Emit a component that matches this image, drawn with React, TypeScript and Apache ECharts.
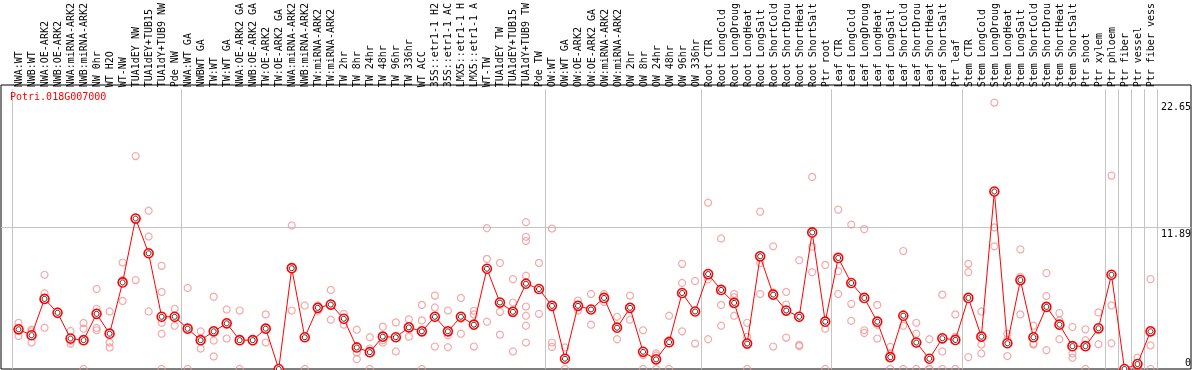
import React, { useEffect, useRef } from "react";
import * as echarts from "echarts";

const geneId = "Potri.018G007000";

const categories = [
  "NWA:WT", "NWB:WT", "NWA:OE-ARK2", "NWB:OE-ARK2", "NWA:miRNA-ARK2", "NWB:miRNA-ARK2", "NW 0hr", "WT H2O", "WT-NW", "TUA1dEY NW", "TUA1dEY+TUB15", "TUA1dY+TUB9 NW", "Pde NW",
  "NWA:WT GA", "NWBWT GA", "TW:WT", "TW:WT GA", "NWA:OE-ARK2 GA", "NWB:OE-ARK2 GA", "TW:OE-ARK2", "TW:OE-ARK2 GA", "NWA:miRNA-ARK2", "NWB:miRNA-ARK2", "TW:miRNA-ARK2", "TW:miRNA-ARK2", "TW 2hr", "TW 8hr", "TW 24hr", "TW 48hr", "TW 96hr", "TW 336hr", "WT ACC", "35S::etr1-1 H2", "35S::etr1-1 AC", "LMX5::etr1-1 H", "LMX5::etr1-1 A", "WT-TW", "TUA1dEY TW", "TUA1dEY+TUB15", "TUA1dY+TUB9 TW", "Pde TW",
  "OW:WT", "OW:WT GA", "OW:OE-ARK2", "OW:OE-ARK2 GA", "OW:miRNA-ARK2", "OW:miRNA-ARK2", "OW 2hr", "OW 8hr", "OW 24hr", "OW 48hr", "OW 96hr", "OW 336hr",
  "Root CTR", "Root LongCold", "Root LongDroug", "Root LongHeat", "Root LongSalt", "Root ShortCold", "Root ShortDrou", "Root ShortHeat", "Root ShortSalt", "Ptr root",
  "Leaf CTR", "Leaf LongCold", "Leaf LongDroug", "Leaf LongHeat", "Leaf LongSalt", "Leaf ShortCold", "Leaf ShortDrou", "Leaf ShortHeat", "Leaf ShortSalt", "Ptr leaf",
  "Stem CTR", "Stem LongCold", "Stem LongDroug", "Stem LongHeat", "Stem LongSalt", "Stem ShortCold", "Stem ShortDrou", "Stem ShortHeat", "Stem ShortSalt", "Ptr shoot", "Ptr xylem",
  "Ptr phloem", "Ptr fiber", "Ptr vessel", "Ptr fiber vess",
];

const means = [
  3.37, 2.87, 5.96, 4.78, 2.59, 2.45, 4.69, 3.0, 7.36, 12.79, 9.84, 4.44, 4.44,
  3.43, 2.45, 3.2, 3.88, 2.45, 2.45, 3.43, 0, 8.57, 2.7, 5.2, 5.48, 4.27, 1.83, 1.43, 2.75, 2.7, 3.54, 3.2, 4.44, 3.2, 4.44, 3.77, 8.52, 5.65, 4.86, 7.25, 6.8,
  5.37, 0.87, 5.37, 5.06, 6.04, 3.51, 5.2, 1.46, 0.82, 2.28, 6.46, 4.89,
  8.07, 6.72, 5.62, 2.16, 9.58, 6.32, 4.97, 4.44, 11.61, 4.02,
  9.44, 7.31, 6.04, 4.02, 1.01, 4.53, 2.25, 0.87, 2.61, 2.47,
  6.04, 2.75, 15.09, 2.19, 7.56, 2.7, 5.28, 3.77, 1.94, 1.94, 3.46,
  8.01, 0, 0.42, 3.2,
];

const replicates: number[][] = [
  [3.93, 2.81], [3.34, 3.2, 2.25], [8.01, 6.44, 3.51], [4.9, 4.66], [3.23, 2.4, 2.16], [3.91, 3.43, 0], [6.8, 5.12, 3.49, 3.29], [4.89, 2.25, 1.83], [9.05, 7.56, 5.79], [18.1, 7.56], [13.46, 11.27, 4.89], [8.77, 6.55, 3.93, 3.0, 0], [5.12, 3.68],
  [6.89, 0], [3.2, 1.74], [6.15, 2.42, 1.07], [5.06, 2.59], [4.97, 0], [2.55, 2.35], [4.64, 2.25], [0, 0], [12.2, 4.97], [5.4, 0], [5.4, 4.97], [6.72, 4.19], [4.69, 3.77], [3.34, 1.41, 0.84], [2.7, 1.74, 0], [3.6, 2.45, 2.25], [3.96, 1.49], [4.22, 2.75], [5.45, 4.13, 0], [6.24, 5.23, 1.91], [4.97, 2.87, 1.85], [6.04, 4.27, 3.0], [4.95, 4.64, 1.91], [11.97, 9.36, 4.02], [9.02, 4.86, 2.92], [7.64, 5.65, 1.49], [12.48, 11.24, 10.88, 7.93, 5.31, 4.53, 3.68, 2.25], [9.02, 4.69],
  [11.94, 2.25, 1.88], [1.83, 0], [5.82, 4.97], [6.38, 3.77], [6.38, 5.7], [4.44, 2.53], [6.24, 4.19], [3.29, 1.18, 0], [1.32, 1.15, 0], [4.53, 2.45, 0], [8.94, 7.31, 3.2], [7.48, 2.16],
  [14.14, 7.62, 2.53], [11.1, 5.45, 3.68], [6.38, 6.1, 4.53], [3.93, 2.73, 0], [13.38, 9.02, 6.38], [10.43, 6.52, 1.91], [6.55, 5.48, 2.67], [9.25, 2.05, 1.94], [16.33, 10.4, 8.23], [8.85, 3.43, 0],
  [13.55, 8.32, 6.38], [12.28, 5.54, 4.1], [11.89, 3.29, 3.06], [5.45, 3.77, 2.59], [1.88, 1.32, 0], [10.03, 3.68, 0], [3.93, 3.0, 0], [2.53, 0, 0], [6.32, 1.49, 0], [4.64, 2.73, 0],
  [8.94, 8.23, 1.01], [4.89, 2.08, 1.32], [22.65, 12.03, 10.43], [3.0, 2.5, 1.1], [10.17, 7.84, 4.64], [3.68, 2.16, 2.08], [8.15, 6.21, 1.6], [4.75, 4.13, 2.53], [3.57, 1.32, 0.96], [3.37, 2.45, 0], [4.81, 2.11],
  [16.44, 5.4, 2.19], [0], [0.96, 0.3, 0], [7.64, 2.0, 0],
];

const groupStarts = [0, 13, 41, 53, 63, 73, 84, 85, 86, 87];
const yTicks = [0, 11.89, 22.65];
const yStep = 11.89;
const yMax = 23.78;

export default function App() {
  const ref = useRef<HTMLDivElement>(null);
  useEffect(() => {
    if (!ref.current) return;
    const chart = echarts.init(ref.current, undefined, { renderer: "svg" });
    const mono = "'DejaVu Sans Mono', monospace";
    const repPoints: [number, number][] = [];
    replicates.forEach((arr, i) => arr.forEach((v) => repPoints.push([i, v])));
    const meanPoints = means.map((v, i) => [i, v]);
    const isBoundary = (index: number) => groupStarts.indexOf(index) >= 0;
    const gray = "#c4c4c4";
    chart.setOption({
      animation: false,
      title: {
        text: geneId,
        left: 10,
        top: 91,
        padding: 0,
        textStyle: { color: "#ff0000", fontSize: 10, fontFamily: mono, fontWeight: "normal" },
      },
      grid: [
        { left: 1, right: 1, top: 85, bottom: 1, show: true, borderColor: "#000", borderWidth: 1, backgroundColor: "rgba(0,0,0,0)" },
        { left: 12, right: 37, top: 85, bottom: 1 },
      ],
      xAxis: [
        { gridIndex: 0, type: "value", min: 0, max: 1, show: false },
        {
          gridIndex: 1,
          type: "category",
          data: categories,
          position: "top",
          boundaryGap: true,
          axisLine: { show: false },
          axisTick: { show: true, interval: isBoundary, length: 85, lineStyle: { color: gray, width: 1 } },
          splitLine: { show: true, interval: isBoundary, lineStyle: { color: gray, width: 1 } },
          axisLabel: { interval: 0, rotate: 90, margin: 2, fontSize: 10, fontFamily: mono, color: "#000" },
        },
      ],
      yAxis: [
        {
          gridIndex: 0,
          type: "value",
          min: 0,
          max: yMax,
          interval: yStep,
          position: "right",
          axisLine: { show: false },
          axisTick: { show: false },
          splitLine: { show: true, showMinLine: false, showMaxLine: false, lineStyle: { color: gray, width: 1 } },
          axisLabel: {
            inside: true,
            margin: 0,
            customValues: yTicks,
            fontSize: 10,
            fontFamily: mono,
            color: "#000",
            formatter: (v: number) => (v === 0 ? `{b|${v}}` : v === yTicks[2] ? `{t2|${v}}` : `{t|${v}}`),
            rich: {
              b: { fontSize: 10, fontFamily: mono, color: "#000", padding: [0, 0, 14, 0] },
              t: { fontSize: 10, fontFamily: mono, color: "#000", padding: [13, 0, 0, 0] },
              t2: { fontSize: 10, fontFamily: mono, color: "#000", padding: [17, 0, 0, 0] },
            },
          },
        },
        { gridIndex: 1, type: "value", min: 0, max: yMax, show: false },
      ],
      series: [
        {
          type: "scatter",
          xAxisIndex: 1,
          yAxisIndex: 1,
          data: repPoints,
          symbol: "circle",
          symbolSize: 7,
          silent: true,
          z: 2,
          itemStyle: { color: "rgba(255,255,255,0)", borderColor: "#f09494", borderWidth: 1.2 },
        },
        {
          type: "line",
          xAxisIndex: 1,
          yAxisIndex: 1,
          data: means,
          symbol: "circle",
          symbolSize: 9,
          showAllSymbol: true,
          silent: true,
          z: 3,
          lineStyle: { color: "#ff0000", width: 1 },
          itemStyle: { color: "#ffffff", borderColor: "#ff0000", borderWidth: 1.6 },
        },
        {
          type: "scatter",
          xAxisIndex: 1,
          yAxisIndex: 1,
          data: meanPoints,
          symbol: "circle",
          symbolSize: 5,
          silent: true,
          z: 4,
          itemStyle: { color: "rgba(255,255,255,0)", borderColor: "#000000", borderWidth: 1 },
        },
      ],
    });
    return () => chart.dispose();
  }, []);
  return <div ref={ref} style={{ position: "fixed", left: 0, top: 0, width: 1194, height: 370 }} />;
}
